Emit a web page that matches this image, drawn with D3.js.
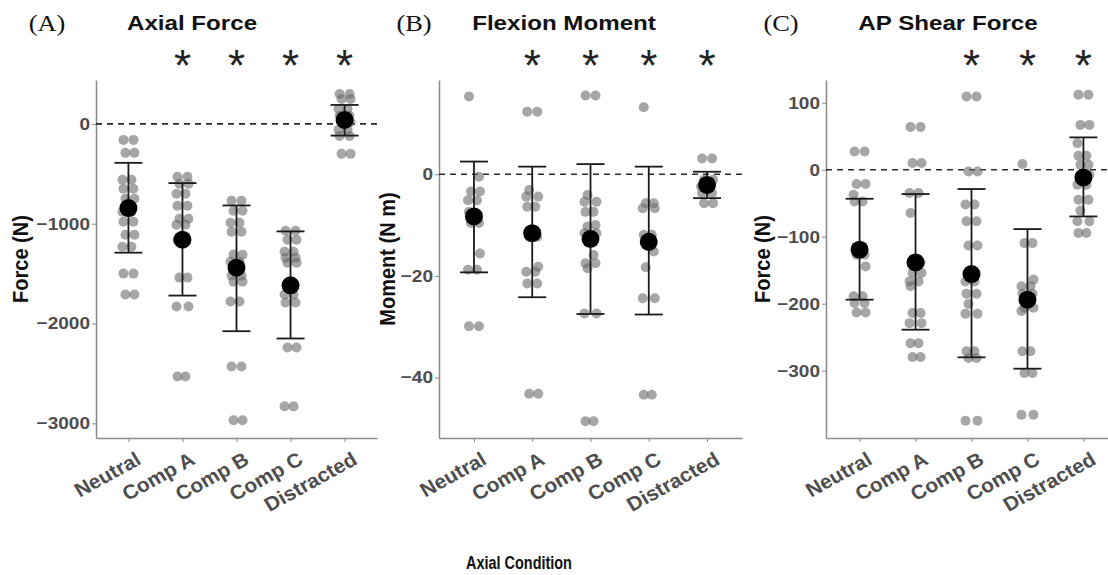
<!DOCTYPE html>
<html>
<head>
<meta charset="utf-8">
<script src="https://cdn.jsdelivr.net/npm/d3@7"></script>
<style>
  body { margin: 0; background: #fff; }
  text { font-family: "Liberation Sans", Arial, sans-serif; }
</style>
</head>
<body>
<svg id="chart"></svg>
<script>
const conditions = ['Neutral', 'Comp A', 'Comp B', 'Comp C', 'Distracted'];

// (A) Axial force, N
const axialPoints = [
    [-160, -160, -290, -290, -560, -560, -650, -650, -750, -750, -880, -880, -980, -980, -1110, -1110, -1230, -1230, -1500, -1500, -1710, -1710],
    [-530, -530, -600, -600, -700, -700, -820, -820, -950, -950, -1010, -1010, -1160, -1540, -1540, -1830, -1830, -2530, -2530],
    [-770, -770, -870, -870, -990, -990, -1080, -1080, -1310, -1310, -1380, -1380, -1520, -1520, -1580, -1580, -1780, -1780, -2430, -2430, -2970, -2970],
    [-1070, -1070, -1160, -1160, -1280, -1280, -1340, -1340, -1390, -1390, -1710, -1710, -1790, -1790, -2240, -2240, -2830, -2830],
    [300, 300, 250, 250, 150, 150, 80, 80, 20, 20, -60, -60, -120, -120, -300, -300]
];
const axialMeans = [-843, -1160, -1440, -1617, 40];
const axialUpper = [-390, -593, -817, -1077, 190];
const axialLower = [-1290, -1720, -2077, -2150, -117];
const axialTicks = [0, -1000, -2000, -3000];
const axialStars = ['Comp A', 'Comp B', 'Comp C', 'Distracted'];

// (B) Flexion moment, N m
const momentPoints = [
    [15.3, -0.5, -3.4, -3.4, -5.1, -5.1, -7.4, -9.6, -9.6, -15.6, -18.8, -18.8, -29.9, -29.9],
    [12.3, 12.3, -3.1, -4.4, -4.4, -6.4, -6.4, -12.3, -12.3, -18.2, -19.2, -19.2, -21.5, -21.5, -43.2, -43.2],
    [15.5, 15.5, -4.1, -5.4, -5.4, -7.4, -7.4, -10, -10.3, -11.6, -11.6, -15.9, -17.5, -17.5, -18.5, -27.4, -27.4, -48.6, -48.6],
    [13.2, -5.7, -5.7, -6.7, -6.7, -11.9, -11.9, -15.2, -18.3, -24.4, -24.4, -43.4, -43.4],
    [3.1, 3.1, -1.1, -1.1, -2.4, -2.4, -3.7, -3.7, -5.7, -5.7]
];
const momentMeans = [-8.3, -11.6, -12.7, -13.3, -2.1];
const momentUpper = [2.5, 1.5, 2.0, 1.5, 0.5];
const momentLower = [-19.3, -24.2, -27.5, -27.6, -4.7];
const momentTicks = [0, -20, -40];
const momentStars = ['Comp A', 'Comp B', 'Comp C', 'Distracted'];

// (C) AP shear force, N
const shearPoints = [
    [27.3, 27.3, -21.4, -21.4, -37.3, -47.3, -47.3, -126.9, -126.9, -144.3, -189, -189, -199, -199, -213, -213],
    [63.7, 63.7, 10, 10, -34.8, -34.8, -64.7, -139, -154, -154, -166.7, -166.7, -174, -214, -214, -229, -229, -259, -259, -279.6, -279.6],
    [109.4, 109.4, -2.5, -2.5, -52, -52, -77, -77, -113, -113, -166.7, -166.7, -185, -185, -200.5, -215, -215, -271, -271, -281, -281, -374.6, -374.6],
    [8.5, -109.5, -109.5, -164, -174, -174, -185, -185, -206, -206, -211, -271, -271, -303.5, -303.5, -365.7, -365.7],
    [112, 112, 67, 67, 39.8, 20.9, 20.9, 7.5, 7.5, -7.5, -22.4, -22.4, -44.8, -44.8, -61, -77, -77, -94.5, -94.5]
];
const shearMeans = [-119.4, -138.3, -155.7, -194, -11.4];
const shearUpper = [-43.3, -36.3, -28.8, -88.6, 48.3];
const shearLower = [-194, -238.8, -280, -297, -69.7];
const shearTicks = [100, 0, -100, -200, -300];
const shearStars = ['Comp B', 'Comp C', 'Distracted'];

const W = 1108, H = 575;
const plotTop = 80, plotBottom = 438;

const panels = [
    { tag: '(A)', title: 'Axial Force', ylab: 'Force (N)', pts: axialPoints, means: axialMeans,
      upper: axialUpper, lower: axialLower, ticks: axialTicks, stars: axialStars,
      domain: [-3147, 440], x0: 96, x1: 377, tagX: 47, titleX: 192, ylabX: 28 },
    { tag: '(B)', title: 'Flexion Moment', ylab: 'Moment (N m)', pts: momentPoints, means: momentMeans,
      upper: momentUpper, lower: momentLower, ticks: momentTicks, stars: momentStars,
      domain: [-51.9, 18.55], x0: 439, x1: 742, tagX: 414, titleX: 564, ylabX: 395 },
    { tag: '(C)', title: 'AP Shear Force', ylab: 'Force (N)', pts: shearPoints, means: shearMeans,
      upper: shearUpper, lower: shearLower, ticks: shearTicks, stars: shearStars,
      domain: [-400.5, 134], x0: 826, x1: 1117, tagX: 781, titleX: 948, ylabX: 770 }
];

// small fixed side-by-side offsets so paired points don't sit on top of each other
const jitter = [-5, 5, -3, 6, -6, 3];

const svg = d3.select('#chart').attr('width', W).attr('height', H);

panels.forEach(p => {
    let x = d3.scalePoint().domain(conditions).range([p.x0, p.x1]).padding(0.6);
    let y = d3.scaleLinear().domain(p.domain).range([plotBottom, plotTop]);
    let g = svg.append('g');

    // axes
    let yAxis = d3.axisLeft(y).tickValues(p.ticks).tickFormat(d3.format('d'))
        .tickSize(4).tickPadding(3).tickSizeOuter(0);
    let xAxis = d3.axisBottom(x).tickSize(4).tickSizeOuter(0);

    let ya = g.append('g').attr('transform', `translate(${p.x0},0)`).call(yAxis);
    let xa = g.append('g').attr('transform', `translate(0,${plotBottom})`).call(xAxis);

    [ya, xa].forEach(a => {
        a.select('.domain').attr('stroke', '#8a8a8a').attr('stroke-width', 1.5);
        a.selectAll('.tick line').attr('stroke', '#8a8a8a').attr('stroke-width', 1);
    });
    ya.selectAll('.tick text')
        .attr('x', 0)
        .attr('transform', 'translate(-6,0) scale(1.12,1)')
        .style('font-size', '17px').style('font-weight', 'bold').attr('fill', '#4d4d4d');
    xa.selectAll('.tick text')
        .attr('x', 0).attr('y', 0).attr('dy', '0.71em')
        .attr('text-anchor', 'end')
        .attr('transform', 'translate(6,13) scale(1.05,1) rotate(-30)')
        .style('font-size', '20px').style('font-weight', 'bold').attr('fill', '#4d4d4d');

    // zero reference line
    g.append('line')
        .attr('x1', p.x0).attr('x2', p.x1)
        .attr('y1', y(0)).attr('y2', y(0))
        .attr('stroke', '#2a2a2a').attr('stroke-width', 1.6)
        .attr('stroke-dasharray', '6,5');

    // individual points
    let flat = [];
    p.pts.forEach((vals, ci) => vals.forEach((v, i) => flat.push({ c: conditions[ci], v: v, i: i })));
    g.selectAll('.pt').data(flat).enter()
        .append('circle')
        .attr('class', 'pt')
        .attr('cx', d => x(d.c) + jitter[d.i % jitter.length])
        .attr('cy', d => y(d.v))
        .attr('r', 5)
        .attr('fill', '#6a6a6a')
        .attr('fill-opacity', 0.6);

    // mean +/- SD
    let summary = conditions.map((c, i) => ({ c: c, m: p.means[i], hi: p.upper[i], lo: p.lower[i] }));
    let eb = g.selectAll('.eb').data(summary).enter().append('g').attr('class', 'eb')
        .attr('stroke', '#1a1a1a').attr('stroke-width', 1.8);
    eb.append('line')
        .attr('x1', d => x(d.c)).attr('x2', d => x(d.c))
        .attr('y1', d => y(d.hi)).attr('y2', d => y(d.lo));
    eb.append('line')
        .attr('x1', d => x(d.c) - 14).attr('x2', d => x(d.c) + 14)
        .attr('y1', d => y(d.hi)).attr('y2', d => y(d.hi));
    eb.append('line')
        .attr('x1', d => x(d.c) - 14).attr('x2', d => x(d.c) + 14)
        .attr('y1', d => y(d.lo)).attr('y2', d => y(d.lo));
    g.selectAll('.mean').data(summary).enter()
        .append('circle')
        .attr('class', 'mean')
        .attr('cx', d => x(d.c)).attr('cy', d => y(d.m))
        .attr('r', 9).attr('fill', '#000');

    // significance markers
    g.selectAll('.star').data(p.stars).enter()
        .append('text')
        .attr('class', 'star')
        .attr('x', d => x(d)).attr('y', 81)
        .attr('text-anchor', 'middle')
        .style('font-size', '44px')
        .attr('fill', '#222')
        .text('*');

    // titles and labels
    g.append('text')
        .attr('transform', `translate(${p.titleX},30) scale(1.15,1)`)
        .attr('text-anchor', 'middle')
        .style('font-size', '21px').style('font-weight', 'bold')
        .attr('fill', '#111')
        .text(p.title);
    g.append('text')
        .attr('transform', `translate(${p.tagX},31) scale(1.15,1)`)
        .attr('text-anchor', 'middle')
        .style('font-family', '"Liberation Serif", "Times New Roman", serif')
        .style('font-size', '23px')
        .attr('fill', '#111')
        .text(p.tag);
    g.append('text')
        .attr('transform', `translate(${p.ylabX},${(plotTop + plotBottom) / 2}) scale(1.1,1) rotate(-90)`)
        .attr('text-anchor', 'middle')
        .style('font-size', '20px').style('font-weight', 'bold')
        .attr('fill', '#111')
        .text(p.ylab);
});

svg.append('text')
    .attr('transform', 'translate(519,569) scale(0.76,1)')
    .attr('text-anchor', 'middle')
    .style('font-size', '19px').style('font-weight', 'bold')
    .attr('fill', '#111')
    .text('Axial Condition');
</script>
</body>
</html>
